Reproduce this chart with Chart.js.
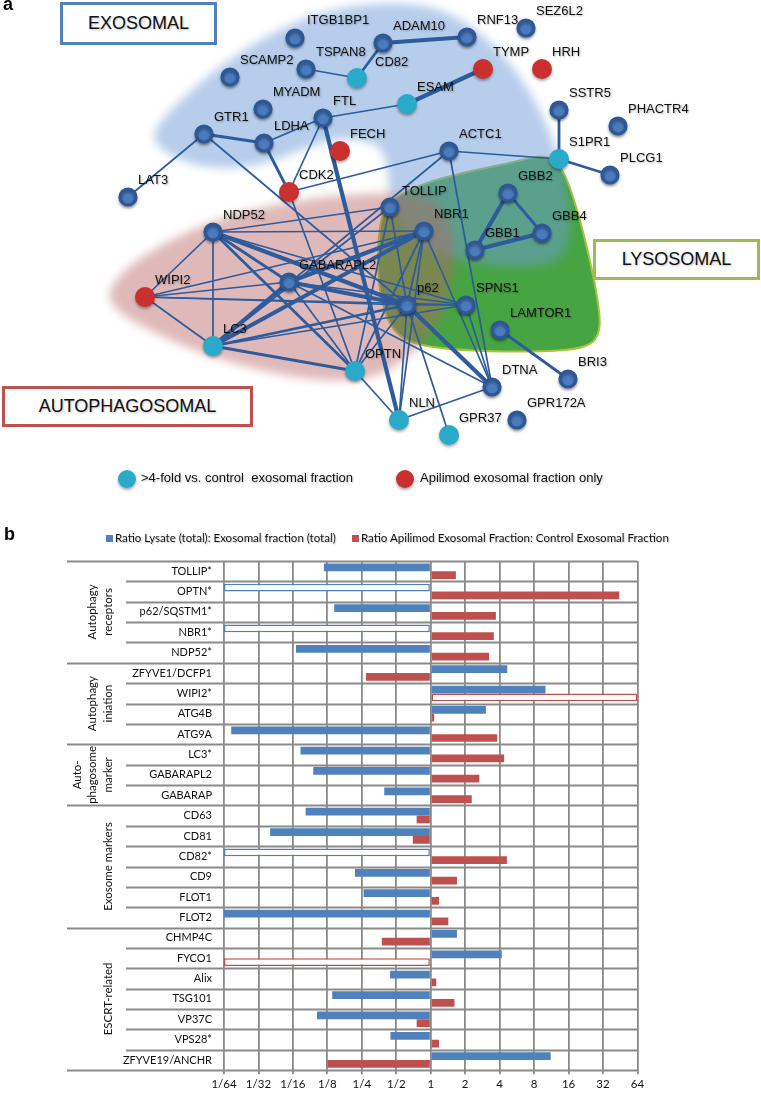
<!DOCTYPE html>
<html>
<head>
<meta charset="utf-8">
<script src="https://cdn.jsdelivr.net/npm/chart.js@4.4.1/dist/chart.umd.min.js"></script>
<style>
  body { margin:0; background:#fff; }
  #page { position:relative; width:761px; height:1094px; overflow:hidden; background:#fff; }
  canvas { position:absolute; left:0; }
  .panel { position:absolute; font:bold 18px "Liberation Sans", Arial, sans-serif; }
  .box { position:absolute; box-sizing:border-box; border:3px solid; background:#fff;
         font:18px "Liberation Sans", Arial, sans-serif; color:#111; text-align:center;
         text-shadow:1px 1px 2px rgba(0,0,0,0.25); }
  .leg { position:absolute; font:13px "Liberation Sans", Arial, sans-serif; color:#111;
         text-shadow:1px 1px 2px rgba(0,0,0,0.25); white-space:nowrap; }
  .dot { position:absolute; width:18px; height:18px; border-radius:50%; box-shadow:0 2px 3px rgba(0,0,0,0.35); }
  .legb { position:absolute; top:531px; font:11.5px Lato, sans-serif; color:#111; white-space:nowrap;
          text-shadow:1px 1px 1px rgba(0,0,0,0.2); }
  .sq { display:inline-block; width:7px; height:7px; margin-right:2px; }
</style>
</head>
<body>
<div id="page">
  <canvas id="net" width="761" height="470" style="top:0"></canvas>
  <canvas id="bars" width="761" height="549" style="top:545px"></canvas>

  <div class="panel" style="left:3px;top:-6px">a</div>
  <div class="panel" style="left:4px;top:524px">b</div>

  <div class="box" style="left:60px;top:2px;width:157px;height:43px;line-height:37px;border-color:#4f81bd">EXOSOMAL</div>
  <div class="box" style="left:593px;top:239px;width:167px;height:41px;line-height:35px;border-color:#9bbb59">LYSOSOMAL</div>
  <div class="box" style="left:2px;top:386px;width:251px;height:41px;line-height:35px;border-color:#c0504d">AUTOPHAGOSOMAL</div>

  <div class="dot" style="left:118px;top:470px;background:#2aa9c8"></div>
  <div class="leg" style="left:141px;top:470px">&gt;4-fold vs. control&nbsp; exosomal fraction</div>
  <div class="dot" style="left:396px;top:470px;background:#c9302e"></div>
  <div class="leg" style="left:420px;top:470px">Apilimod exosomal fraction only</div>

  <div class="legb" style="left:106px"><span class="sq" style="background:#4f81bd"></span>Ratio Lysate (total): Exosomal fraction (total)</div>
  <div class="legb" style="left:352px"><span class="sq" style="background:#c0504d"></span>Ratio Apilimod Exosomal Fraction: Control Exosomal Fraction</div>
</div>

<script>
// ---------- panel a : network ----------
const nodeNames = ['ITGB1BP1','SCAMP2','TSPAN8','CD82','ADAM10','RNF13','SEZ6L2','TYMP','HRH','ESAM',
  'SSTR5','PHACTR4','MYADM','FTL','GTR1','LDHA','FECH','ACTC1','S1PR1','PLCG1',
  'CDK2','LAT3','GBB2','TOLLIP','NDP52','NBR1','GBB4','GBB1','GABARAPL2','WIPI2',
  'p62','SPNS1','LAMTOR1','LC3','OPTN','DTNA','BRI3','GPR172A','NLN','GPR37'];
// layout coordinates of the network (x right, y down)
const nodeX = [295,230,306,357,383,467,526,483,542,407, 559,618,263,323,204,264,340,449,559,610,
  289,128,508,390,213,424,542,475,289,145, 407,466,500,213,355,492,568,517,399,449];
const nodeY = [38,77,69,78,43,37,28,69,69,104, 110,126,109,118,134,143,151,151,159,175,
  192,197,193,207,232,231,233,250,282,297, 305,305,330,346,371,387,379,420,420,435];
// n = detected, c = >4-fold vs control, r = apilimod fraction only
const nodeKind = ['n','n','n','c','n','n','n','r','r','c', 'n','n','n','n','n','n','r','n','c','n',
  'r','n','n','n','n','n','n','n','n','r', 'n','n','n','c','c','n','n','n','c','c'];

const edgesThick = [['ADAM10','RNF13'],['ESAM','TYMP'],['FTL','NLN'],['GBB2','GBB1'],['GBB1','GBB4'],
  ['NDP52','p62'],['GABARAPL2','LC3'],['LC3','NBR1'],['GABARAPL2','p62'],['p62','DTNA'],['GABARAPL2','NBR1']];
const edgesMedium = [['CD82','ADAM10'],['GTR1','LDHA'],['LDHA','CDK2'],['LC3','OPTN'],['NDP52','GABARAPL2'],
  ['LAMTOR1','BRI3'],['GBB2','GBB4'],['SSTR5','S1PR1'],['S1PR1','PLCG1'],['LC3','p62'],['NDP52','OPTN']];
const edgesThin = [['TSPAN8','CD82'],['FTL','ESAM'],['GTR1','LAT3'],['LDHA','FTL'],['GTR1','p62'],
  ['FTL','CDK2'],['CDK2','ACTC1'],['CDK2','OPTN'],['ACTC1','S1PR1'],['ACTC1','LC3'],['ACTC1','DTNA'],
  ['TOLLIP','p62'],['TOLLIP','OPTN'],['NDP52','NBR1'],['NDP52','WIPI2'],['NDP52','LC3'],
  ['NDP52','SPNS1'],['WIPI2','LC3'],['WIPI2','NBR1'],['WIPI2','GABARAPL2'],['WIPI2','p62'],['WIPI2','SPNS1'],
  ['LC3','SPNS1'],['LC3','TOLLIP'],['GABARAPL2','OPTN'],['GABARAPL2','SPNS1'],['GABARAPL2','DTNA'],
  ['NBR1','p62'],['NBR1','DTNA'],['NBR1','OPTN'],['NBR1','NLN'],['p62','NLN'],['p62','GPR37'],
  ['p62','SPNS1'],['p62','OPTN'],['OPTN','NLN'],['NLN','DTNA'],['SPNS1','DTNA'],['NDP52','TOLLIP']];

// shaded compartments (outline points)
const exosomalArea = [[148,138],[172,108],[212,72],[262,38],[318,12],[380,2],[436,6],[482,32],[520,75],
  [548,125],[566,180],[572,228],[562,262],[520,268],[470,263],[430,252],[402,228],[390,200],[387,160],
  [376,142],[340,137],[305,148],[270,163],[220,170],[176,160]];
const autophagosomalArea = [[106,292],[130,264],[170,240],[220,218],[280,203],[340,195],[400,192],[440,200],
  [456,240],[452,290],[436,328],[406,360],[370,380],[320,381],[260,371],[200,353],[150,331],[116,311]];
const lysosomalArea = [[383,205],[420,184],[470,171],[515,162],[545,154],[562,166],[576,205],[589,255],
  [598,300],[601,332],[588,348],[540,352],[470,351],[420,346],[394,334],[380,300],[377,250]];

const NODE_FILL = {n:'#4b7bbf', c:'#2aa9c8', r:'#c9302e'};
const EDGE_COLOR = '#2e5b9c';
const idx = name => nodeNames.indexOf(name);

function edgeSets(list, width) {
  return list.map(([a, b]) => ({
    data: [{x:nodeX[idx(a)], y:nodeY[idx(a)]}, {x:nodeX[idx(b)], y:nodeY[idx(b)]}],
    showLine: true, pointRadius: 0, borderColor: EDGE_COLOR, borderWidth: width
  }));
}

function smoothShape(ctx, pts, xs, ys) {
  const P = pts.map(p => [xs.getPixelForValue(p[0]), ys.getPixelForValue(p[1])]);
  const n = P.length;
  const mid = (p, q) => [(p[0]+q[0])/2, (p[1]+q[1])/2];
  const m0 = mid(P[n-1], P[0]);
  ctx.beginPath();
  ctx.moveTo(m0[0], m0[1]);
  for (let i = 0; i < n; i++) {
    const m = mid(P[i], P[(i+1)%n]);
    ctx.quadraticCurveTo(P[i][0], P[i][1], m[0], m[1]);
  }
  ctx.closePath();
}

const areaPlugin = {
  id: 'areas',
  beforeDatasetsDraw(chart) {
    const {ctx, scales:{x, y}} = chart;
    ctx.save();
    // lysosomal (green)
    smoothShape(ctx, lysosomalArea, x, y);
    ctx.fillStyle = '#47a443';
    ctx.fill();
    ctx.lineWidth = 2;
    ctx.strokeStyle = '#a4c43c';
    ctx.stroke();
    // exosomal (blue)
    ctx.filter = 'blur(5px)';
    smoothShape(ctx, exosomalArea, x, y);
    ctx.fillStyle = 'rgba(110,155,215,0.5)';
    ctx.fill();
    // autophagosomal (pink)
    smoothShape(ctx, autophagosomalArea, x, y);
    ctx.fillStyle = 'rgba(185,100,100,0.45)';
    ctx.fill();
    ctx.restore();
  },
  beforeDatasetDraw(chart, args) {
    if (args.index === 0) {
      const ctx = chart.ctx;
      ctx.save();
      ctx.shadowColor = 'rgba(0,0,0,0.35)';
      ctx.shadowBlur = 3;
      ctx.shadowOffsetY = 2;
    }
  },
  afterDatasetDraw(chart, args) {
    if (args.index === 0) chart.ctx.restore();
  }
};

const labelOffsets = {ITGB1BP1:[12,-18], CD82:[18,-16], TOLLIP:[12,-16]};
const nodeLabelPlugin = {
  id: 'nodeLabels',
  afterDatasetsDraw(chart) {
    const {ctx, scales:{x, y}} = chart;
    ctx.save();
    ctx.font = '13px "Liberation Sans", Arial, sans-serif';
    ctx.fillStyle = '#111';
    ctx.textBaseline = 'middle';
    ctx.shadowColor = 'rgba(0,0,0,0.3)';
    ctx.shadowBlur = 2;
    ctx.shadowOffsetX = 1;
    ctx.shadowOffsetY = 1;
    nodeNames.forEach((name, i) => {
      const [dx, dy] = labelOffsets[name] || [10, -17];
      ctx.fillText(name, x.getPixelForValue(nodeX[i]) + dx, y.getPixelForValue(nodeY[i]) + dy);
    });
    ctx.restore();
  }
};

new Chart(document.getElementById('net'), {
  type: 'scatter',
  data: {
    datasets: [{
      label: 'nodes',
      data: nodeNames.map((n, i) => ({x: nodeX[i], y: nodeY[i]})),
      pointRadius: nodeKind.map(k => k === 'n' ? 8 : 10),
      pointBorderWidth: nodeKind.map(k => k === 'n' ? 3.2 : 0),
      pointBackgroundColor: nodeKind.map(k => NODE_FILL[k]),
      pointBorderColor: nodeKind.map(k => k === 'n' ? '#2d5896' : NODE_FILL[k])
    }].concat(edgeSets(edgesThick, 4.2), edgeSets(edgesMedium, 2.8), edgeSets(edgesThin, 1.7))
  },
  options: {
    responsive: false,
    animation: false,
    events: [],
    layout: {padding: 0, autoPadding: false},
    plugins: {legend: {display: false}, tooltip: {enabled: false}},
    scales: {
      x: {type: 'linear', min: 0, max: 761, display: false},
      y: {type: 'linear', min: 0, max: 470, reverse: true, display: false}
    }
  },
  plugins: [areaPlugin, nodeLabelPlugin]
});

// ---------- panel b : ratio bars (log2 units) ----------
const categories = ['TOLLIP*','OPTN*','p62/SQSTM1*','NBR1*','NDP52*','ZFYVE1/DCFP1','WIPI2*','ATG4B','ATG9A',
  'LC3*','GABARAPL2','GABARAP','CD63','CD81','CD82*','CD9','FLOT1','FLOT2',
  'CHMP4C','FYCO1','Alix','TSG101','VP37C','VPS28*','ZFYVE19/ANCHR'];
const lysateRatio = [-3.10,-6,-2.80,-6,-3.91,2.22,3.33,1.60,-5.79,
  -3.78,-3.41,-1.35,-3.63,-4.66,-6,-2.20,-1.95,-6.0,
  0.76,2.06,-1.18,-2.86,-3.30,-1.17,3.48];
const apilimodRatio = [0.73,5.47,1.89,1.83,1.69,-1.88,6,0.10,1.93,
  2.13,1.41,1.19,-0.41,-0.52,2.21,0.76,0.24,0.51,
  -1.42,-6,0.16,0.69,-0.41,0.24,-3.0];
// open bars: detected in one fraction only
const lysateOpen = ['OPTN*','NBR1*','CD82*'];
const apilimodOpen = ['WIPI2*','FYCO1'];
const tickLabels = ['1/64','1/32','1/16','1/8','1/4','1/2','1','2','4','8','16','32','64'];
const groups = [
  {lines:['Autophagy','receptors'], from:0, to:4},
  {lines:['Autophagy','iniation'], from:5, to:8},
  {lines:['Auto-','phagosome','marker'], from:9, to:11},
  {lines:['Exosome markers'], from:12, to:17},
  {lines:['ESCRT-related'], from:18, to:24}
];

const BLUE = '#4f81bd', RED = '#c0504d', GRID = '#8a8a8a';

const sidePlugin = {
  id: 'side',
  afterDraw(chart) {
    const {ctx, chartArea, scales:{y}} = chart;
    const step = y.getPixelForValue(1) - y.getPixelForValue(0);
    const top = chartArea.top;
    ctx.save();
    ctx.strokeStyle = GRID;
    ctx.lineWidth = 1.8;
    const starts = new Set(groups.map(g => g.from));
    for (let i = 0; i <= categories.length; i++) {
      const yy = Math.round(top + i * step) + 0.5;
      const x0 = (i === categories.length || starts.has(i)) ? 67 : 126;
      ctx.beginPath(); ctx.moveTo(x0, yy); ctx.lineTo(chartArea.right, yy); ctx.stroke();
    }
    ctx.fillStyle = '#111';
    ctx.font = '11px Lato, sans-serif';
    ctx.textAlign = 'right';
    ctx.textBaseline = 'middle';
    categories.forEach((c, i) => ctx.fillText(c, 212, y.getPixelForValue(i)));
    ctx.font = '11.5px Lato, sans-serif';
    ctx.textAlign = 'center';
    groups.forEach(g => {
      const cy = (y.getPixelForValue(g.from) + y.getPixelForValue(g.to)) / 2;
      const n = g.lines.length;
      g.lines.forEach((t, k) => {
        const cx = 108 - (n - 1 - k) * 15.5;
        ctx.save();
        ctx.translate(cx, cy);
        ctx.rotate(-Math.PI / 2);
        ctx.fillText(t, 0, 0);
        ctx.restore();
      });
    });
    ctx.restore();
  }
};

new Chart(document.getElementById('bars'), {
  type: 'bar',
  data: {
    labels: categories,
    datasets: [
      {
        label: 'Ratio Lysate (total): Exosomal fraction (total)',
        data: lysateRatio,
        backgroundColor: c => lysateOpen.includes(categories[c.dataIndex]) ? '#fff' : BLUE,
        borderColor: BLUE,
        borderWidth: c => lysateOpen.includes(categories[c.dataIndex]) ? 1.5 : 0,
        borderSkipped: false
      },
      {
        label: 'Ratio Apilimod Exosomal Fraction: Control Exosomal Fraction',
        data: apilimodRatio,
        backgroundColor: c => apilimodOpen.includes(categories[c.dataIndex]) ? '#fff' : RED,
        borderColor: RED,
        borderWidth: c => apilimodOpen.includes(categories[c.dataIndex]) ? 1.5 : 0,
        borderSkipped: false
      }
    ]
  },
  options: {
    indexAxis: 'y',
    responsive: false,
    animation: false,
    events: [],
    categoryPercentage: 0.76,
    barPercentage: 1.0,
    layout: {padding: {left: 224, right: 123.5, top: 16, bottom: 0}},
    plugins: {legend: {display: false}, tooltip: {enabled: false}},
    scales: {
      x: {
        type: 'linear', min: -6, max: 6,
        ticks: {stepSize: 1, color: '#111', font: {family: 'Lato', size: 11.5}, padding: 3,
                callback: v => tickLabels[v + 6]},
        grid: {color: GRID, lineWidth: 1.8, tickLength: 4},
        border: {display: false}
      },
      y: {
        ticks: {display: false},
        grid: {display: false, drawTicks: false},
        border: {display: false}
      }
    }
  },
  plugins: [sidePlugin]
});
</script>
</body>
</html>
